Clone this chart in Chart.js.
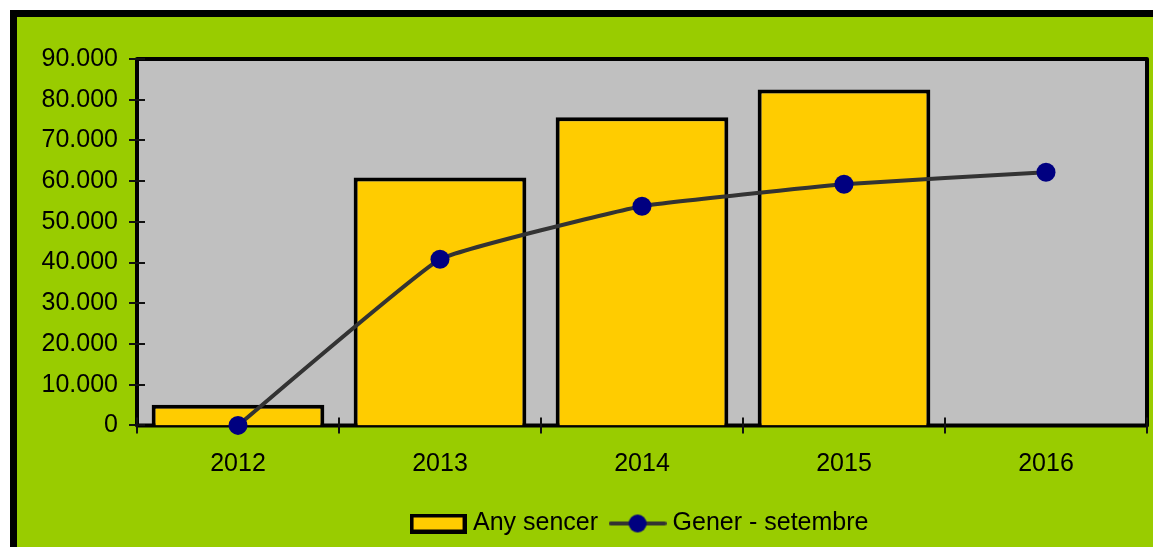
<!DOCTYPE html>
<html>
<head>
<meta charset="utf-8">
<script src="https://cdn.jsdelivr.net/npm/chart.js@4/dist/chart.umd.min.js"></script>
<style>
html,body{margin:0;padding:0;background:#fff;}
#wrap{width:1153px;height:547px;}
</style>
</head>
<body>
<div id="wrap"><canvas id="c" width="1153" height="547"></canvas></div>
<script>
const categories = ['2012', '2013', '2014', '2015', '2016'];
const anySencer = [5100, 60900, 75700, 82500, null];
const generSetembre = [0, 40800, 53850, 59250, 62200];
const yTickValues = [0, 10000, 20000, 30000, 40000, 50000, 60000, 70000, 80000, 90000];
const seriesNames = ['Any sencer', 'Gener - setembre'];

const FONT = "'Liberation Sans', Arial, sans-serif";

function fmt(v) {
  return String(v).replace(/\B(?=(\d{3})+(?!\d))/g, '.');
}

// legend images
function makeBarImg() {
  const c = document.createElement('canvas');
  c.width = 57; c.height = 20;
  const x = c.getContext('2d');
  x.fillStyle = '#000'; x.fillRect(0, 0, 57, 20);
  x.fillStyle = '#FFCC00'; x.fillRect(4, 4, 49, 12);
  return c;
}
function makeLineImg() {
  const c = document.createElement('canvas');
  c.width = 58; c.height = 20;
  const x = c.getContext('2d');
  x.strokeStyle = '#333333'; x.lineWidth = 4; x.lineCap = 'round';
  x.beginPath(); x.moveTo(2, 10); x.lineTo(56, 10); x.stroke();
  x.fillStyle = '#000080';
  x.beginPath(); x.arc(29, 10, 9, 0, Math.PI * 2); x.fill();
  return c;
}
const barImg = makeBarImg();
const lineImg = makeLineImg();

const bgPlugin = {
  id: 'bg',
  beforeDraw(chart) {
    const ctx = chart.ctx;
    ctx.save();
    ctx.fillStyle = '#ffffff';
    ctx.fillRect(0, 0, chart.width, chart.height);
    ctx.fillStyle = '#000000';
    ctx.fillRect(10, 10, chart.width - 10, chart.height - 10);
    ctx.fillStyle = '#99CC00';
    ctx.fillRect(17, 17, chart.width - 17, chart.height - 17);
    ctx.restore();
  },
  beforeDatasetsDraw(chart) {
    const ctx = chart.ctx;
    const a = chart.chartArea;
    const xs = chart.scales.x, ys = chart.scales.y;
    ctx.save();
    ctx.fillStyle = '#C0C0C0';
    ctx.fillRect(a.left, a.top, a.right - a.left, a.bottom - a.top);
    ctx.strokeStyle = '#000';
    ctx.lineWidth = 4;
    ctx.lineJoin = 'round';
    ctx.strokeRect(a.left, a.top, a.right - a.left, a.bottom - a.top);
    // crossing ticks
    ctx.strokeStyle = '#111';
    ctx.lineWidth = 2;
    ctx.beginPath();
    yTickValues.forEach(v => {
      const y = Math.round(ys.getPixelForValue(v));
      ctx.moveTo(a.left - 8, y); ctx.lineTo(a.left + 8, y);
    });
    for (let i = 0; i <= categories.length; i++) {
      const x = Math.round(xs.getPixelForValue(i - 0.5));
      ctx.moveTo(x, a.bottom - 8); ctx.lineTo(x, a.bottom + 8);
    }
    ctx.stroke();
    ctx.restore();
  }
};

new Chart(document.getElementById('c'), {
  type: 'bar',
  data: {
    labels: categories,
    datasets: [
      {
        type: 'bar',
        label: seriesNames[0],
        data: anySencer,
        backgroundColor: '#FFCC00',
        borderColor: '#000000',
        borderWidth: 4,
        barPercentage: 0.855,
        categoryPercentage: 1.0,
        order: 2
      },
      {
        type: 'line',
        label: seriesNames[1],
        data: generSetembre,
        borderColor: '#333333',
        borderWidth: 4,
        tension: 0.1,
        pointRadius: 9.5,
        pointHoverRadius: 9.5,
        pointBackgroundColor: '#000080',
        pointBorderColor: '#000080',
        pointBorderWidth: 0,
        clip: false,
        order: 1
      }
    ]
  },
  options: {
    responsive: false,
    animation: false,
    devicePixelRatio: 1,
    layout: { autoPadding: false, padding: { left: 0, right: 6, top: 59, bottom: 1 } },
    scales: {
      x: {
        grid: { display: false, drawTicks: false },
        border: { display: false },
        ticks: { color: '#000', font: { family: FONT, size: 25 }, padding: 24 },
        afterFit(s) { s.height = 68.6; s.paddingLeft = 0; s.paddingRight = 0; }
      },
      y: {
        min: 0, max: 90000,
        grid: { display: false, drawTicks: false },
        border: { display: false },
        ticks: {
          stepSize: 10000,
          color: '#000',
          font: { family: FONT, size: 25 },
          padding: 19,
          callback: v => fmt(v)
        },
        afterFit(s) { s.width = 137; }
      }
    },
    plugins: {
      tooltip: { enabled: false },
      legend: {
        position: 'bottom',
        fullSize: false,
        labels: {
          usePointStyle: true,
          pointStyleWidth: 45,
          padding: 17,
          color: '#000',
          font: { family: FONT, size: 25 },
          generateLabels() {
            return [
              { text: seriesNames[0], pointStyle: barImg, datasetIndex: 0, fillStyle: '#FFCC00', strokeStyle: '#000', lineWidth: 0, hidden: false, fontColor: '#000' },
              { text: seriesNames[1], pointStyle: lineImg, datasetIndex: 1, fillStyle: '#000080', strokeStyle: '#333', lineWidth: 0, hidden: false, fontColor: '#000' }
            ];
          }
        }
      }
    }
  },
  plugins: [bgPlugin]
});
</script>
</body>
</html>
